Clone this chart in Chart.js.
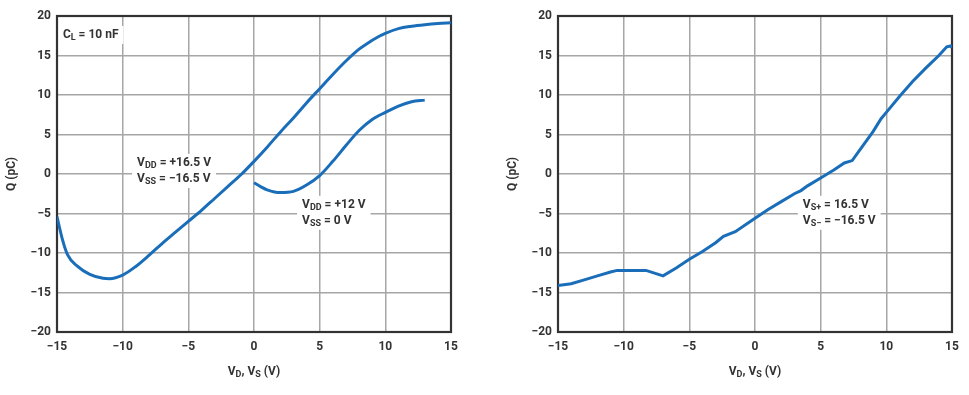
<!DOCTYPE html>
<html>
<head>
<meta charset="utf-8">
<script src="https://cdn.jsdelivr.net/npm/chart.js@4.4.1/dist/chart.umd.min.js"></script>
<style>
  body { margin: 0; background: #fff; width: 969px; height: 395px; position: relative; overflow: hidden; }
  canvas { position: absolute; top: 0; }
  #leftChart { left: 0; }
  #rightChart { left: 501px; }
</style>
</head>
<body>
<canvas id="leftChart" width="501" height="395"></canvas>
<canvas id="rightChart" width="468" height="395"></canvas>
<script>
// axis ticks
const xTicks = [-15, -10, -5, 0, 5, 10, 15];
const yTicks = [-20, -15, -10, -5, 0, 5, 10, 15, 20];

// left chart, VDD = +16.5 V / VSS = -16.5 V
const vLeftDual = [-15, -14.6, -14.2, -13.5, -12.5, -11.5, -11, -10, -9, -8, -7, -6, -5, -4, -3, -2, -1, 0, 1, 2, 3, 4, 5, 6, 7, 8, 8.6, 9.5, 10, 11, 12, 13, 14, 15];
const qLeftDual = [-5.4, -8.2, -10.2, -11.6, -12.7, -13.2, -13.25, -12.8, -11.7, -10.3, -8.8, -7.4, -6.0, -4.6, -3.1, -1.6, -0.1, 1.6, 3.4, 5.3, 7.1, 9.0, 10.8, 12.6, 14.3, 15.8, 16.5, 17.4, 17.8, 18.4, 18.7, 18.9, 19.05, 19.15];

// left chart, VDD = +12 V / VSS = 0 V
const vLeftSingle = [0, 0.5, 1, 2, 3, 4, 5, 6, 7, 8, 9, 10, 11, 12, 13];
const qLeftSingle = [-1.1, -1.6, -2.0, -2.35, -2.2, -1.4, -0.2, 1.6, 3.6, 5.5, 6.9, 7.8, 8.6, 9.15, 9.35];

// right chart, VS+ = 16.5 V / VS- = -16.5 V
const vRight = [-15, -14, -13, -12, -11, -10.5, -10, -9, -8.3, -7, -6, -5, -4, -3, -2.4, -1.5, 0, 1, 2, 3, 3.5, 4, 5, 6, 6.8, 7.4, 8, 9, 9.6, 10, 11, 12, 13, 14, 14.6, 14.9, 15];
const qRight = [-14.1, -13.9, -13.4, -12.9, -12.4, -12.2, -12.2, -12.2, -12.2, -12.9, -11.9, -10.8, -9.8, -8.7, -7.9, -7.3, -5.6, -4.5, -3.5, -2.5, -2.1, -1.5, -0.5, 0.5, 1.4, 1.7, 3.1, 5.4, 7.0, 7.8, 9.8, 11.7, 13.4, 15.0, 16.1, 16.2, 16.0];

const lineBlue = '#1a6eb9';
const textColor = '#333';
const gridColor = '#a6a6a6';
const fontFamily = 'Roboto, "Liberation Sans", sans-serif';

const toPoints = (xs, ys) => xs.map((x, i) => ({ x: x, y: ys[i] }));
const minus = (v) => String(v).replace('-', '\u2212');

// draws text runs like [['V',''],['DD','sub'],[' = +12 V','']]
function drawRuns(ctx, runs, x, y) {
    let cx = x;
    runs.forEach(([txt, kind]) => {
        ctx.font = kind === 'sub' ? `bold 9px ${fontFamily}` : `bold 12px ${fontFamily}`;
        ctx.fillText(txt, cx, kind === 'sub' ? y + 3 : y);
        cx += ctx.measureText(txt).width;
    });
    return cx - x;
}

function runsWidth(ctx, runs) {
    let w = 0;
    runs.forEach(([txt, kind]) => {
        ctx.font = kind === 'sub' ? `bold 9px ${fontFamily}` : `bold 12px ${fontFamily}`;
        w += ctx.measureText(txt).width;
    });
    return w;
}

// notes are anchored in data units: {x, y, lines}
const notesPlugin = {
    id: 'notes',
    beforeDatasetsDraw(chart, args, opts) {
        const ctx = chart.ctx;
        const xs = chart.scales.x, ys = chart.scales.y;
        const area = chart.chartArea;
        ctx.save();
        ctx.textBaseline = 'middle';
        ctx.textAlign = 'left';
        (opts.notes || []).forEach(note => {
            const px = xs.getPixelForValue(note.x);
            const py = ys.getPixelForValue(note.y);
            const w = Math.max(...note.lines.map(l => runsWidth(ctx, l)));
            const h = note.lines.length * 16;
            ctx.fillStyle = '#fff';
            ctx.fillRect(px - 5, py - 9, w + 10, h + 2);
            ctx.fillStyle = textColor;
            note.lines.forEach((l, i) => drawRuns(ctx, l, px, py + i * 16));
        });
        // frame
        ctx.strokeStyle = '#333';
        ctx.lineWidth = 2.2;
        ctx.strokeRect(area.left, area.top, area.right - area.left, area.bottom - area.top);
        // x axis title with subscripts
        const title = [['V', ''], ['D', 'sub'], [', V', ''], ['S', 'sub'], [' (V)', '']];
        const tw = runsWidth(ctx, title);
        ctx.fillStyle = textColor;
        drawRuns(ctx, title, (area.left + area.right) / 2 - tw / 2, 372);
        ctx.restore();
    }
};

function makeChart(id, datasets, notes, padRight) {
    return new Chart(document.getElementById(id), {
        type: 'scatter',
        data: { datasets: datasets },
        options: {
            responsive: false,
            animation: false,
            layout: { padding: { top: 16, right: padRight, left: 0, bottom: 0 } },
            plugins: {
                legend: { display: false },
                tooltip: { enabled: false },
                notes: { notes: notes }
            },
            scales: {
                x: {
                    type: 'linear',
                    min: -15, max: 15,
                    afterBuildTicks: (s) => { s.ticks = xTicks.map(v => ({ value: v })); },
                    afterFit: (s) => { s.height = 63; },
                    grid: { color: gridColor, lineWidth: 1.5, drawTicks: false },
                    border: { display: false },
                    ticks: {
                        padding: 8,
                        color: textColor,
                        font: { family: fontFamily, size: 12, weight: 'bold' },
                        callback: (v) => minus(v)
                    }
                },
                y: {
                    type: 'linear',
                    min: -20, max: 20,
                    afterBuildTicks: (s) => { s.ticks = yTicks.map(v => ({ value: v })); },
                    afterFit: (s) => { s.width = 57; },
                    grid: { color: gridColor, lineWidth: 1.5, drawTicks: false },
                    border: { display: false },
                    title: {
                        display: true,
                        text: 'Q (pC)',
                        color: textColor,
                        padding: { top: 5, bottom: 0 },
                        font: { family: fontFamily, size: 12, weight: 'bold' }
                    },
                    ticks: {
                        padding: 6,
                        color: textColor,
                        font: { family: fontFamily, size: 12, weight: 'bold' },
                        callback: (v) => minus(v)
                    }
                }
            }
        },
        plugins: [notesPlugin]
    });
}

const lineStyle = {
    showLine: true,
    borderColor: lineBlue,
    borderWidth: 3,
    pointRadius: 0,
    fill: false
};

makeChart('leftChart', [
    Object.assign({ data: toPoints(vLeftDual, qLeftDual), cubicInterpolationMode: 'monotone' }, lineStyle),
    Object.assign({ data: toPoints(vLeftSingle, qLeftSingle), cubicInterpolationMode: 'monotone' }, lineStyle)
], [
    { x: -14.55, y: 17.6, lines: [[['C', ''], ['L', 'sub'], [' = 10 nF', '']]] },
    { x: -8.9, y: 1.4, lines: [[['V', ''], ['DD', 'sub'], [' = +16.5 V', '']], [['V', ''], ['SS', 'sub'], [' = \u221216.5 V', '']]] },
    { x: 3.66, y: -3.9, lines: [[['V', ''], ['DD', 'sub'], [' = +12 V', '']], [['V', ''], ['SS', 'sub'], [' = 0 V', '']]] }
], 50);

makeChart('rightChart', [
    Object.assign({ data: toPoints(vRight, qRight), tension: 0 }, lineStyle)
], [
    { x: 3.64, y: -3.9, lines: [[['V', ''], ['S+', 'sub'], [' = 16.5 V', '']], [['V', ''], ['S\u2212', 'sub'], [' = \u221216.5 V', '']]] }
], 17);
</script>
</body>
</html>
